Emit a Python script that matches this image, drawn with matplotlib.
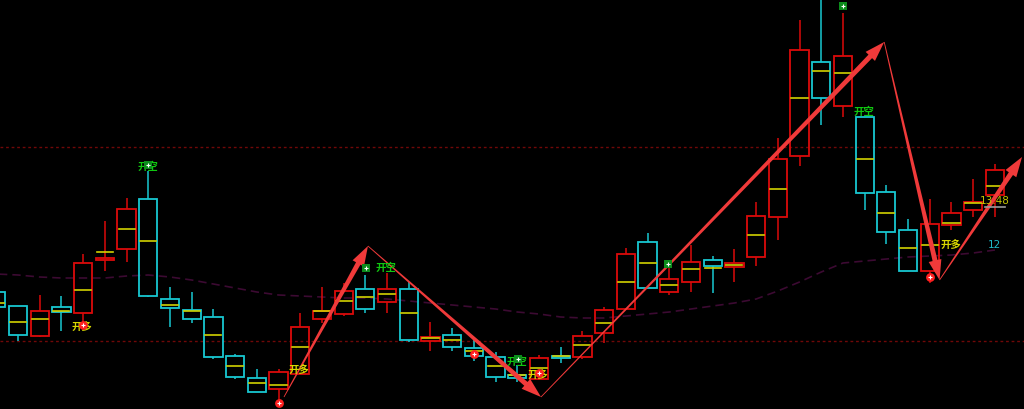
import numpy as np
import matplotlib
matplotlib.use("Agg")
import matplotlib.pyplot as plt
from matplotlib.patches import Rectangle, Polygon
from matplotlib.transforms import IdentityTransform

plt.rcParams['font.family'] = ['Noto Sans CJK SC', 'DejaVu Sans']

# ---- candle data (index 0..46) ----
opens  = [117,103, 73,102, 96,149,160,210,110, 99, 92, 53, 31, 20, 35, 90, 95,120,107,120,
           68, 74, 61, 52, 34, 30, 53, 52, 76,100,167,117,127,149,142,152,192,253,347,303,
          292,217,179,138,184,199,214]
closes = [102, 74, 98, 97,146,151,200,113,101, 90, 52, 32, 17, 37, 82, 98,118,100,120, 69,
           72, 62, 53, 32, 31, 51, 51, 73, 99,155,121,130,147,143,146,193,250,359,311,353,
          216,177,138,185,196,207,239]
highs  = [120,103,114,113,155,188,211,238,122,117,100, 55, 40, 40, 96,122,126,134,136,127,
           87, 81, 69, 57, 44, 54, 62, 78,102,161,176,144,164,153,160,207,271,389,414,396,
          292,224,190,210,207,230,245]
lows   = [ 99, 68, 72, 78, 86,138,147,112, 82, 86, 50, 30, 17,  2, 35, 86, 93, 96, 96, 67,
           58, 58, 48, 27, 27, 29, 46, 50, 66,100,121,114,117,116,127,143,169,243,284,292,
          199,165,138,126,179,192,192]
mids   = [106, 87, 90, 98,119,157,180,168,104, 98, 74, 43, 26, 24, 62, 98,108,112,115, 96,
           71, 69, 58, 43, 34, 41, 53, 64, 86,127,146,124,140,141,144,174,220,311,338,336,
          250,196,161,164,186,206,223]
ma     = [135,134,132,131,131,131,133,134,132,129,125,121,117,114,113,112,111,111,110,108,
          106,104,102,100, 97, 95, 92, 91, 91, 93, 95, 97,100,103,106,110,118,127,137,146,
          148,150,152,153,154,156,159]

levels = [262, 68]

# zigzag arrows (candle index, value)
zig_x = [13.25, 17.12, 25.09, 40.90, 43.45, 47.25]
zig_y = [12, 163, 12, 367, 129, 252]

# signal labels
labels_x = [6.99, 3.95, 13.94, 17.95, 23.98, 24.95, 39.97, 43.97]
labels_y = [242, 82, 39, 141, 47, 34, 297, 164]
labels_t = ['开空', '开多', '开多', '开空', '开空', '开多', '开空', '开多']

buy_x = [4.0, 13.02, 22.0, 25.0, 43.0]
buy_y = [84, 6, 55, 36, 132]
sell_x = [7.0, 17.03, 24.03, 30.94, 39.0]
sell_y = [244, 141, 50, 145, 403]

last_price = '13.48'
last_price_y = 208
side_num = '12'
side_num_y = 164

RED = '#dc0a0a'
CYAN = '#18c8d2'
YEL = '#d2d200'

fig = plt.figure(figsize=(10.24, 4.09), dpi=100, facecolor='black')
ax = fig.add_axes([0, 0, 1, 1])
ax.set_facecolor('black')
ax.set_xlim(0.17, 47.34)
ax.set_ylim(0, 409)
ax.axis('off')

for lv in levels:
    ax.axhline(lv, color='#700808', lw=1.0, ls=(0, (2, 2)), zorder=1)

ax.plot(range(len(ma)), ma, color='#3c0a32', lw=1.2, ls=(0, (5, 3)), zorder=1)

bw = 0.84
for i in range(len(opens)):
    o, c, h, l, m = opens[i], closes[i], highs[i], lows[i], mids[i]
    col = RED if c >= o else CYAN
    top, bot = max(o, c), min(o, c)
    ax.plot([i, i], [top, h], color=col, lw=1.1, zorder=2, solid_capstyle='butt')
    ax.plot([i, i], [l, bot], color=col, lw=1.1, zorder=2, solid_capstyle='butt')
    ax.add_patch(Rectangle((i - bw / 2, bot), bw, max(top - bot, 1.5),
                           fill=False, edgecolor=col, lw=1.3, zorder=3))
    ax.plot([i - bw / 2 + 0.05, i + bw / 2 - 0.05], [m, m], color=YEL, lw=1.2, zorder=4)


def taper_arrow(p0, p1, w0=0.8, w1=5.0, head_len=20.0, head_w=13.0, color='#f03a3a'):
    a = ax.transData.transform(p0)
    b = ax.transData.transform(p1)
    d = b - a
    L = np.hypot(*d)
    u = d / L
    n = np.array([-u[1], u[0]])
    base = b - u * head_len
    pts = [a + n * w0 / 2, base + n * w1 / 2, base + n * head_w / 2, b,
           base - n * head_w / 2, base - n * w1 / 2, a - n * w0 / 2]
    ax.add_patch(Polygon(pts, closed=True, facecolor=color, edgecolor='none',
                         transform=IdentityTransform(), zorder=6))


for k in range(len(zig_x) - 1):
    taper_arrow((zig_x[k], zig_y[k]), (zig_x[k + 1], zig_y[k + 1]))

for x, y, t in zip(labels_x, labels_y, labels_t):
    col = '#10c810' if t == '开空' else '#d8d800'
    ax.text(x, y, t, color=col, fontsize=7.5, ha='center', va='center', zorder=7,
            fontweight='bold')

ax.scatter(buy_x, buy_y, s=40, marker='o', color='#ff2020', zorder=8, linewidths=0)
ax.scatter(buy_x, buy_y, s=12, marker='+', color='white', zorder=9, linewidths=0.8)
ax.scatter(sell_x, sell_y, s=36, marker='s', color='#0c8c1c', zorder=8, linewidths=0)
ax.scatter(sell_x, sell_y, s=12, marker='+', color='white', zorder=9, linewidths=0.8)

n = len(opens) - 1
ax.text(n, last_price_y, last_price, color='#c4c400', fontsize=7.5, ha='center', va='center', zorder=7,
        family='DejaVu Sans')
ax.plot([n - 0.45, n + 0.45], [last_price_y - 6, last_price_y - 6], color='#9a9a9a', lw=1.2, zorder=7)
ax.text(n, side_num_y, side_num, color='#20b8c8', fontsize=7.5, ha='center', va='center', zorder=7,
        family='DejaVu Sans')

fig.savefig('out.png', dpi=100, facecolor='black')
